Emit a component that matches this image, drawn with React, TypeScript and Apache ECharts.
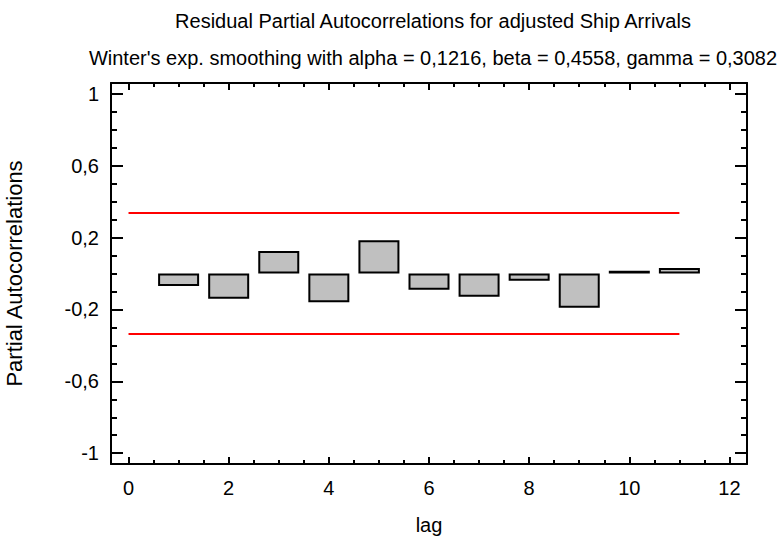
import React, { useEffect, useRef } from 'react';
import * as echarts from 'echarts';

const lags = [1, 2, 3, 4, 5, 6, 7, 8, 9, 10, 11];
const pacf = [-0.07, -0.14, 0.125, -0.16, 0.185, -0.09, -0.13, -0.04, -0.19, 0.015, 0.03];
const limitLags = [0, 11];
const upperLimit = [0.337, 0.337];
const lowerLimit = [-0.337, -0.337];
const xMajorTicks = [0, 2, 4, 6, 8, 10, 12];
const xMinorTicks = [0, 0.5, 1, 1.5, 2, 2.5, 3, 3.5, 4, 4.5, 5, 5.5, 6, 6.5, 7, 7.5, 8, 8.5, 9, 9.5, 10, 10.5, 11, 11.5, 12];
const yMajorTicks = [-1, -0.6, -0.2, 0.2, 0.6, 1];
const yMinorTicks = [-1, -0.9, -0.8, -0.7, -0.6, -0.5, -0.4, -0.3, -0.2, -0.1, 0, 0.1, 0.2, 0.3, 0.4, 0.5, 0.6, 0.7, 0.8, 0.9, 1];

const titleText = 'Residual Partial Autocorrelations for adjusted Ship Arrivals';
const subtitleText = "Winter's exp. smoothing with alpha = 0,1216, beta = 0,4558, gamma = 0,3082";
const xName = 'lag';
const yName = 'Partial Autocorrelations';

const FONT = '"Liberation Sans", Arial, sans-serif';
const X_MIN = -0.35;
const X_MAX = 12.35;
const Y_MIN = -1.06;
const Y_MAX = 1.06;

const fmt = (v: number) => String(Math.round(v * 10) / 10).replace('.', ',');

export default function App() {
  const ref = useRef<HTMLDivElement>(null);
  useEffect(() => {
    if (!ref.current) return;
    const chart = echarts.init(ref.current, null, { renderer: 'svg' });
    const black = '#000';
    const xAxisBase = (position: string, major: boolean, labels: boolean) => ({
      type: 'value',
      position,
      min: X_MIN,
      max: X_MAX,
      axisLine: { show: major, onZero: false, lineStyle: { color: black, width: 2 } },
      axisTick: {
        show: true,
        inside: true,
        length: major ? 7 : 4,
        customValues: major ? xMajorTicks : xMinorTicks,
        lineStyle: { color: black, width: 2 },
      },
      axisLabel: labels
        ? { show: true, customValues: xMajorTicks, fontSize: 20, color: black, margin: 14, fontFamily: FONT, formatter: fmt }
        : { show: false },
      splitLine: { show: false },
      ...(labels
        ? {
            name: xName,
            nameLocation: 'middle',
            nameGap: 51,
            nameTextStyle: { fontSize: 20, color: black, fontFamily: FONT },
          }
        : {}),
    });
    const yAxisBase = (position: string, major: boolean, labels: boolean) => ({
      type: 'value',
      position,
      min: Y_MIN,
      max: Y_MAX,
      axisLine: { show: major, onZero: false, lineStyle: { color: black, width: 2 } },
      axisTick: {
        show: true,
        inside: true,
        length: major ? 12 : 6,
        customValues: major ? yMajorTicks : yMinorTicks,
        lineStyle: { color: black, width: 2 },
      },
      axisLabel: labels
        ? { show: true, customValues: yMajorTicks, fontSize: 20, color: black, margin: 12, fontFamily: FONT, formatter: fmt }
        : { show: false },
      splitLine: { show: false },
      ...(labels
        ? {
            name: yName,
            nameLocation: 'middle',
            nameGap: 86,
            nameRotate: 90,
            nameTextStyle: { fontSize: 22, color: black, fontFamily: FONT },
          }
        : {}),
    });
    chart.setOption({
      animation: false,
      backgroundColor: '#fff',
      title: [
        {
          text: titleText,
          left: 428,
          top: 6,
          textAlign: 'center',
          textStyle: { fontSize: 20, lineHeight: 20, fontWeight: 'normal', color: black, fontFamily: FONT },
        },
        {
          text: subtitleText,
          left: 428,
          top: 43,
          textAlign: 'center',
          textStyle: { fontSize: 20, lineHeight: 20, fontWeight: 'normal', color: black, fontFamily: FONT },
        },
      ],
      grid: { left: 111, top: 83, width: 636, height: 381, containLabel: false, outerBoundsMode: 'none' },
      xAxis: [
        xAxisBase('bottom', true, true),
        xAxisBase('bottom', false, false),
        xAxisBase('top', true, false),
        xAxisBase('top', false, false),
      ],
      yAxis: [
        yAxisBase('left', true, true),
        yAxisBase('left', false, false),
        yAxisBase('right', true, false),
        yAxisBase('right', false, false),
      ],
      series: [
        {
          type: 'line',
          data: limitLags.map((l, i) => [l, upperLimit[i]]),
          symbol: 'none',
          lineStyle: { color: '#ff0000', width: 2 },
          silent: true,
        },
        {
          type: 'line',
          data: limitLags.map((l, i) => [l, lowerLimit[i]]),
          symbol: 'none',
          lineStyle: { color: '#ff0000', width: 2 },
          silent: true,
        },
        {
          type: 'bar',
          data: lags.map((l, i) => [l, pacf[i]]),
          barWidth: 41,
          itemStyle: { color: '#c0c0c0', borderColor: black, borderWidth: 2 },
        },
      ],
    });
    return () => chart.dispose();
  }, []);
  return (
    <div
      ref={ref}
      style={{ position: 'fixed', left: 0, top: 0, width: 781, height: 537, background: '#fff' }}
    />
  );
}
